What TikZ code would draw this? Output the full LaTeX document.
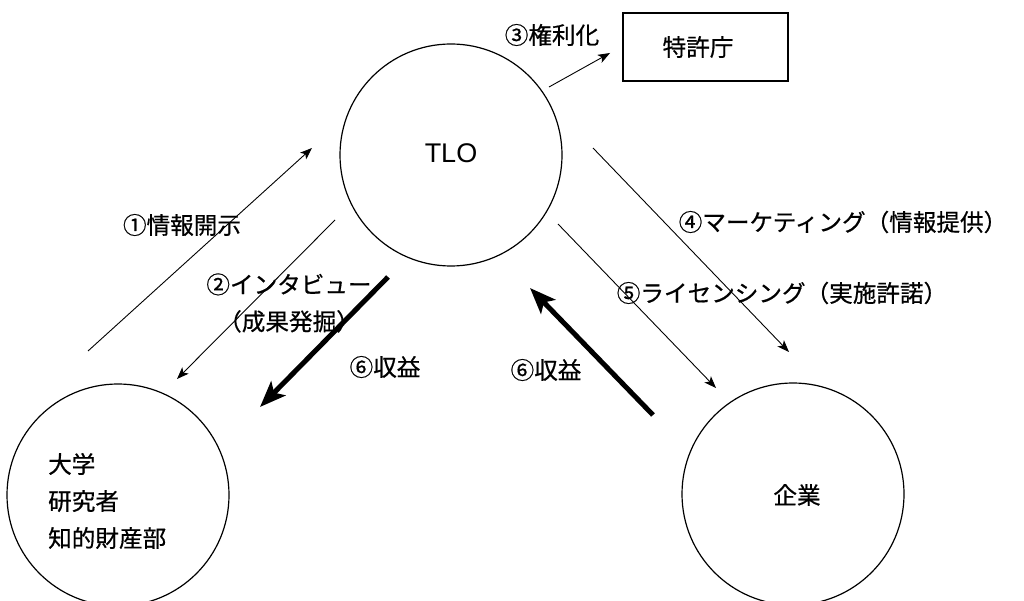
\documentclass[tikz,border=0pt]{standalone}
\usepackage{fontspec}
\setmainfont{Noto Sans CJK JP}[FakeBold=0.6]
\newfontfamily\latinsans{Liberation Sans}
\usetikzlibrary{arrows.meta}
\tikzset{
  ent/.style={circle, draw, line width=1.2pt, minimum size=222pt, inner sep=0pt},
  lbl/.style={inner sep=0pt, font=\fontsize{23.6}{37}\selectfont},
  thinarr/.style={line width=0.9pt, -{Stealth[length=12pt,width=9pt,inset=3pt]}},
  thickarr/.style={line width=5pt, -{Stealth[length=26pt,width=20pt,inset=6pt]}},
  office/.style={draw, line width=1.5pt, minimum width=165pt, minimum height=68pt, inner sep=0pt}
}
\begin{document}
\begin{tikzpicture}[x=1pt,y=-1pt]
\useasboundingbox (0,0) rectangle (1024,601);
\clip (0,0) rectangle (1024,601);
% entities
\node[ent] (tlo) at (451,155) {};
\node[ent] (univ) at (118,495) {};
\node[ent] (corp) at (793,494) {};
\node[office] (jpo) at (705.5,47) {};
% texts
\node[inner sep=0pt, font=\latinsans\fontsize{27}{30}\selectfont] (tlotxt) at (451,153) {TLO};
\node[lbl] (jpotxt) at (698,47) {特許庁};
\node[lbl, anchor=west, align=left] (univtxt) at (48,501) {大学\\研究者\\知的財産部};
\node[lbl] (corptxt) at (797,495) {企業};
\node[lbl] (l1) at (182,225) {①情報開示};
\node[lbl, align=center] (l2) at (289,303) {②インタビュー\\（成果発掘）};
\node[lbl] (l3) at (552,35) {③権利化};
\node[lbl] (l4) at (843,222) {④マーケティング（情報提供）};
\node[lbl] (l5) at (782,293) {⑤ライセンシング（実施許諾）};
\node[lbl] (l6a) at (385,367) {⑥収益};
\node[lbl] (l6b) at (546,370) {⑥収益};
% arrow end points
\coordinate (a1s) at (88,351);  \coordinate (a1e) at (312,148);
\coordinate (a2s) at (335,220); \coordinate (a2e) at (177,379);
\coordinate (a3s) at (549,87);  \coordinate (a3e) at (610,53);
\coordinate (a4s) at (593,148); \coordinate (a4e) at (789,352);
\coordinate (a5s) at (558,224); \coordinate (a5e) at (716,388);
\coordinate (a6s) at (388,277); \coordinate (a6e) at (260,407);
\coordinate (a7s) at (653,415); \coordinate (a7e) at (530,288);
% arrows
\draw[thinarr] (a1s) -- (a1e);
\draw[thinarr] (a2s) -- (a2e);
\draw[thinarr] (a3s) -- (a3e);
\draw[thinarr] (a4s) -- (a4e);
\draw[thinarr] (a5s) -- (a5e);
\draw[thickarr] (a6s) -- (a6e);
\draw[thickarr] (a7s) -- (a7e);
\end{tikzpicture}
\end{document}
